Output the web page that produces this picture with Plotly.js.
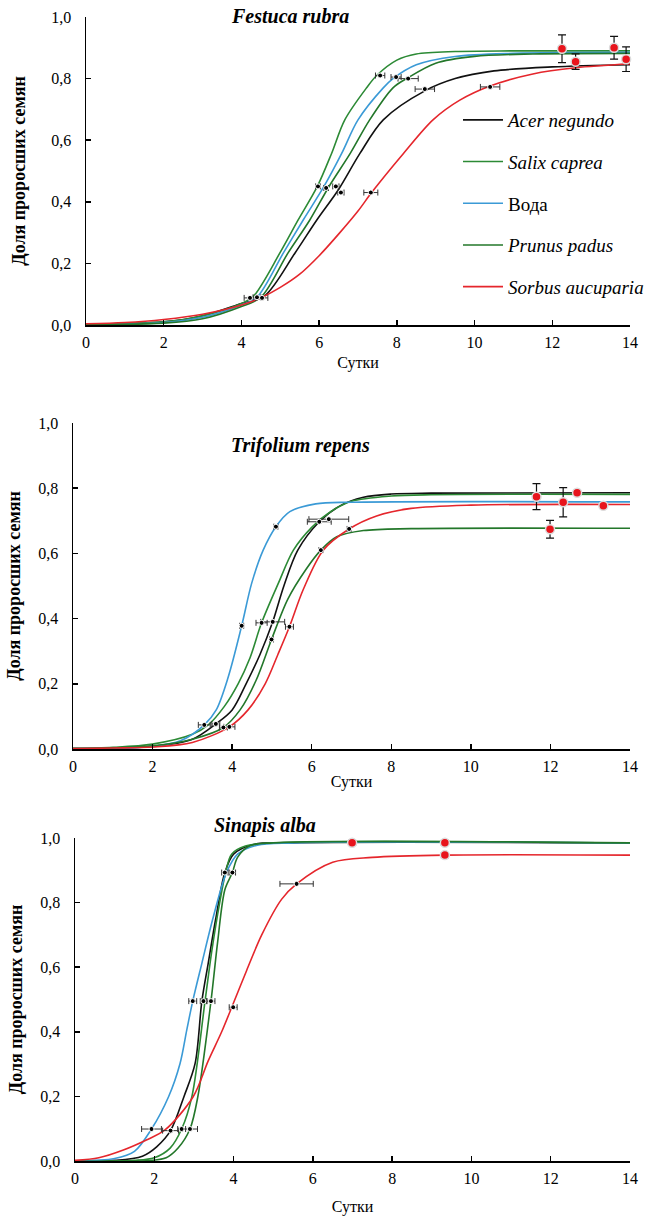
<!DOCTYPE html>
<html>
<head>
<meta charset="utf-8">
<script src="https://cdn.plot.ly/plotly-3.0.1.min.js"></script>
<style>html,body{margin:0;padding:0;background:#fff;}#chart{width:649px;height:1217px;}</style>
</head>
<body>
<div id="chart"></div>
<script>
// ---------- series names / colours ----------
const seriesNames = ['<i>Acer negundo</i>', '<i>Salix caprea</i>', 'Вода', '<i>Prunus padus</i>', '<i>Sorbus aucuparia</i>'];
const seriesColors = ['#111111', '#2c8a35', '#3b9ad6', '#23772a', '#e5262c'];
const panelTitles = ['Festuca rubra', 'Trifolium repens', 'Sinapis alba'];
const xTicks = [0, 2, 4, 6, 8, 10, 12, 14];
const yTicks = [0, 0.2, 0.4, 0.6, 0.8, 1.0];

// ---------- Festuca rubra ----------
const festAcerX = [0, 2, 3, 4, 4.6, 5.38, 5.94, 6.5, 7.05, 7.65, 8.72, 9.5, 10.5, 12, 14];
const festAcerY = [0.003, 0.01, 0.03, 0.07, 0.095, 0.234, 0.341, 0.44, 0.557, 0.666, 0.76, 0.8, 0.825, 0.838, 0.845];
const festSalixX = [0, 2, 3, 4, 4.3, 4.99, 5.46, 5.95, 6.32, 6.66, 7.22, 7.48, 8.0, 8.5, 9.5, 11, 14];
const festSalixY = [0.003, 0.01, 0.03, 0.07, 0.092, 0.234, 0.341, 0.449, 0.557, 0.666, 0.77, 0.81, 0.86, 0.88, 0.888, 0.89, 0.89];
const festWaterX = [0, 2, 3, 4, 4.4, 5.08, 5.59, 6.12, 6.58, 7.0, 7.65, 7.9, 8.5, 9.5, 11, 14];
const festWaterY = [0.002, 0.008, 0.025, 0.065, 0.09, 0.234, 0.341, 0.449, 0.557, 0.666, 0.77, 0.8, 0.845, 0.872, 0.882, 0.885];
const festPrunusX = [0, 2, 3, 4, 4.5, 5.2, 5.76, 6.25, 6.8, 7.3, 7.9, 8.25, 9, 10, 11.5, 14];
const festPrunusY = [0.002, 0.006, 0.02, 0.06, 0.09, 0.234, 0.341, 0.449, 0.557, 0.666, 0.77, 0.8, 0.85, 0.872, 0.88, 0.882];
const festSorbusX = [0, 1, 2, 3, 4, 4.56, 5.0, 5.5, 6.0, 6.5, 7.0, 7.35, 8.17, 8.93, 9.62, 10.4, 11.5, 12.6, 14];
const festSorbusY = [0.004, 0.008, 0.018, 0.035, 0.065, 0.092, 0.122, 0.165, 0.225, 0.295, 0.37, 0.43, 0.557, 0.666, 0.73, 0.776, 0.815, 0.835, 0.848];
const festPtX = [4.22, 4.4, 4.53, 5.97, 6.18, 6.43, 6.56, 7.33, 7.57, 7.98, 8.29, 8.72, 10.4];
const festPtY = [0.088, 0.09, 0.088, 0.45, 0.445, 0.45, 0.43, 0.43, 0.81, 0.805, 0.80, 0.766, 0.773];
const festPtErr = [0.15, 0.1, 0.15, 0.06, 0.06, 0.08, 0.08, 0.18, 0.12, 0.13, 0.26, 0.25, 0.25];
const festEndX = [12.25, 12.6, 13.59, 13.9];
const festEndY = [0.897, 0.855, 0.90, 0.863];
const festEndErr = [0.045, 0.025, 0.037, 0.04];

// ---------- Trifolium repens ----------
const trifAcerX = [0, 2, 3, 3.59, 4.0, 4.35, 4.7, 5.02, 5.3, 5.65, 6.19, 6.7, 7.3, 8, 9, 14];
const trifAcerY = [0.001, 0.008, 0.03, 0.077, 0.12, 0.2, 0.29, 0.39, 0.5, 0.61, 0.697, 0.745, 0.772, 0.782, 0.785, 0.786];
const trifSalixX = [0, 1, 2, 3, 3.4, 3.8, 4.15, 4.45, 4.74, 5.16, 5.54, 6.0, 6.5, 7, 8, 9, 14];
const trifSalixY = [0.002, 0.005, 0.015, 0.045, 0.074, 0.13, 0.2, 0.28, 0.387, 0.508, 0.61, 0.68, 0.73, 0.76, 0.776, 0.78, 0.781];
const trifWaterX = [0, 1, 2, 2.7, 3.3, 3.6, 3.9, 4.24, 4.49, 4.78, 5.1, 5.45, 6.1, 7, 14];
const trifWaterY = [0.001, 0.002, 0.008, 0.025, 0.074, 0.12, 0.22, 0.378, 0.508, 0.61, 0.682, 0.728, 0.752, 0.757, 0.758];
const trifPrunusX = [0, 2, 3, 3.78, 4.2, 4.6, 4.99, 5.4, 5.85, 6.23, 6.63, 7.3, 8.5, 14];
const trifPrunusY = [0.001, 0.01, 0.03, 0.066, 0.12, 0.21, 0.336, 0.46, 0.55, 0.61, 0.651, 0.67, 0.676, 0.677];
const trifSorbusX = [0, 1, 2, 3, 3.93, 4.4, 4.83, 5.15, 5.44, 5.79, 6.29, 6.94, 7.63, 8.5, 10, 14];
const trifSorbusY = [0.001, 0.003, 0.006, 0.02, 0.068, 0.12, 0.2, 0.29, 0.375, 0.49, 0.61, 0.675, 0.715, 0.738, 0.748, 0.75];
const trifPtX = [3.3, 3.59, 3.78, 3.93, 4.24, 4.74, 5.02, 4.99, 5.44, 5.1, 6.19, 6.43, 6.94, 6.23];
const trifPtY = [0.074, 0.077, 0.066, 0.068, 0.378, 0.387, 0.39, 0.336, 0.375, 0.682, 0.697, 0.705, 0.675, 0.61];
const trifPtErr = [0.15, 0.1, 0.1, 0.14, 0.05, 0.14, 0.3, 0.05, 0.1, 0.05, 0.3, 0.5, 0.05, 0.05];
const trifEndX = [11.65, 12.32, 12.67, 13.33, 11.99];
const trifEndY = [0.774, 0.757, 0.786, 0.746, 0.674];
const trifEndErr = [0.04, 0.045, 0.0, 0.0, 0.027];

// ---------- Sinapis alba ----------
const sinAcerX = [0, 1, 1.7, 2.06, 2.41, 2.75, 3.03, 3.2, 3.36, 3.55, 3.78, 4.0, 4.5, 5.5, 14];
const sinAcerY = [0.0, 0.002, 0.015, 0.044, 0.094, 0.2, 0.302, 0.495, 0.612, 0.75, 0.893, 0.95, 0.98, 0.985, 0.985];
const sinSalixX = [0, 1.5, 2, 2.4, 2.69, 2.95, 3.28, 3.45, 3.65, 3.8, 3.95, 4.3, 5, 14];
const sinSalixY = [0.0, 0.002, 0.01, 0.04, 0.099, 0.2, 0.495, 0.65, 0.8, 0.893, 0.95, 0.975, 0.985, 0.985];
const sinWaterX = [0, 1, 1.5, 1.93, 2.36, 2.65, 2.82, 2.97, 3.2, 3.49, 3.82, 4.1, 4.6, 5.5, 14];
const sinWaterY = [0.001, 0.008, 0.03, 0.099, 0.199, 0.302, 0.406, 0.495, 0.612, 0.756, 0.893, 0.95, 0.978, 0.985, 0.985];
const sinPrunusX = [0, 1.8, 2.3, 2.6, 2.9, 3.1, 3.43, 3.6, 3.78, 3.97, 4.1, 4.4, 5, 14];
const sinPrunusY = [0.0, 0.001, 0.01, 0.04, 0.099, 0.2, 0.495, 0.68, 0.84, 0.893, 0.94, 0.975, 0.985, 0.985];
const sinSorbusX = [0, 0.6, 1.22, 1.8, 2.27, 2.98, 3.36, 3.7, 4.0, 4.33, 4.71, 5.21, 5.59, 6.5, 7.5, 9.33, 14];
const sinSorbusY = [0.002, 0.01, 0.034, 0.065, 0.096, 0.199, 0.31, 0.4, 0.49, 0.59, 0.7, 0.81, 0.858, 0.925, 0.94, 0.947, 0.947];
const sinPtX = [1.93, 2.41, 2.69, 2.9, 2.97, 3.24, 3.43, 3.99, 3.78, 3.97, 5.59];
const sinPtY = [0.099, 0.094, 0.099, 0.099, 0.495, 0.495, 0.495, 0.476, 0.893, 0.893, 0.858];
const sinPtErr = [0.25, 0.2, 0.1, 0.19, 0.1, 0.08, 0.1, 0.1, 0.08, 0.08, 0.42];
const sinEndX = [6.99, 9.33, 9.33];
const sinEndY = [0.985, 0.985, 0.947];
const sinEndErr = [0.008, 0.008, 0.008];

// ---------- build ----------
const panels = [
  {curves: [[festAcerX, festAcerY], [festSalixX, festSalixY], [festWaterX, festWaterY], [festPrunusX, festPrunusY], [festSorbusX, festSorbusY]],
   pts: [festPtX, festPtY, festPtErr], ends: [festEndX, festEndY, festEndErr]},
  {curves: [[trifAcerX, trifAcerY], [trifSalixX, trifSalixY], [trifWaterX, trifWaterY], [trifPrunusX, trifPrunusY], [trifSorbusX, trifSorbusY]],
   pts: [trifPtX, trifPtY, trifPtErr], ends: [trifEndX, trifEndY, trifEndErr]},
  {curves: [[sinAcerX, sinAcerY], [sinSalixX, sinSalixY], [sinWaterX, sinWaterY], [sinPrunusX, sinPrunusY], [sinSorbusX, sinSorbusY]],
   pts: [sinPtX, sinPtY, sinPtErr], ends: [sinEndX, sinEndY, sinEndErr]}
];

const W = 649, H = 1217;
const boxes = [ // pixel boxes of the plot areas
  {l: 86, r: 630, t: 17, b: 325},
  {l: 73, r: 630, t: 423, b: 749},
  {l: 75, r: 630, t: 838, b: 1161}
];
const FONT = '"Liberation Serif", "Times New Roman", Times, serif';

const data = [];
panels.forEach((p, i) => {
  const xa = i === 0 ? 'x' : 'x' + (i + 1);
  const ya = i === 0 ? 'y' : 'y' + (i + 1);
  p.curves.forEach((c, k) => {
    data.push({
      type: 'scatter', mode: 'lines', x: c[0], y: c[1], xaxis: xa, yaxis: ya,
      name: seriesNames[k], showlegend: i === 0, legendgroup: 'g' + k,
      line: {color: seriesColors[k], width: 1.6, shape: 'spline', smoothing: 0.9},
      hoverinfo: 'skip'
    });
  });
  data.push({
    type: 'scatter', mode: 'markers', x: p.pts[0], y: p.pts[1], xaxis: xa, yaxis: ya, showlegend: false,
    marker: {color: '#000', size: 5, line: {color: '#fff', width: 1}},
    error_x: {type: 'data', array: p.pts[2], visible: true, color: '#333', thickness: 1, width: 3},
    cliponaxis: false
  });
  data.push({
    type: 'scatter', mode: 'markers', x: p.ends[0], y: p.ends[1], xaxis: xa, yaxis: ya, showlegend: false,
    marker: {color: '#e8141c', size: 9, line: {color: '#ddd', width: 1.5}},
    error_y: {type: 'data', array: p.ends[2], visible: true, color: '#111', thickness: 1.2, width: 4},
    cliponaxis: false
  });
});

const layout = {
  width: W, height: H, margin: {l: 0, r: 0, t: 0, b: 0},
  paper_bgcolor: '#fff', plot_bgcolor: '#fff',
  separators: ', ',
  font: {family: FONT, size: 15, color: '#000'},
  showlegend: true,
  legend: {x: 458 / W, y: 1 - 101 / H, xanchor: 'left', yanchor: 'top',
           font: {family: FONT, size: 19, color: '#000'}, tracegroupgap: 14,
           bgcolor: 'rgba(0,0,0,0)', itemwidth: 40},
  annotations: [],
  hovermode: false
};

const titleCenters = [[290, 16], [300, 446], [265, 825]];
const xTitleStandoff = [7, 2, 15];
const yTitleStandoff = [21, 13, 13];
boxes.forEach((b, i) => {
  const sfx = i === 0 ? '' : String(i + 1);
  const common = {
    showline: true, linecolor: '#000', linewidth: 1.5, mirror: false,
    showgrid: false, zeroline: false, ticks: 'inside', ticklen: 5, tickwidth: 1.5, tickcolor: '#000',
    tickfont: {family: FONT, size: 16, color: '#000'}, fixedrange: true
  };
  layout['xaxis' + sfx] = Object.assign({}, common, {
    domain: [b.l / W, b.r / W], range: [0, 14], tickvals: xTicks, ticktext: xTicks.map(String),
    anchor: 'y' + sfx, ticklabelstandoff: 2,
    title: {text: 'Сутки', font: {family: FONT, size: 16, color: '#000'}, standoff: xTitleStandoff[i]}
  });
  layout['yaxis' + sfx] = Object.assign({}, common, {
    domain: [1 - b.b / H, 1 - b.t / H], range: [0, 1], tickvals: yTicks,
    ticktext: yTicks.map(v => v.toFixed(1).replace('.', ',')),
    anchor: 'x' + sfx, ticklabelstandoff: 10,
    title: {text: '<b>Доля проросших семян</b>', font: {family: FONT, size: 18, color: '#000'}, standoff: yTitleStandoff[i]}
  });
  layout.annotations.push({
    xref: 'paper', yref: 'paper', x: titleCenters[i][0] / W, y: 1 - titleCenters[i][1] / H,
    xanchor: 'center', yanchor: 'middle', showarrow: false,
    text: '<b><i>' + panelTitles[i] + '</i></b>',
    font: {family: FONT, size: 20, color: '#000'}
  });
});

Plotly.newPlot('chart', data, layout, {staticPlot: true, displayModeBar: false});
</script>
</body>
</html>
